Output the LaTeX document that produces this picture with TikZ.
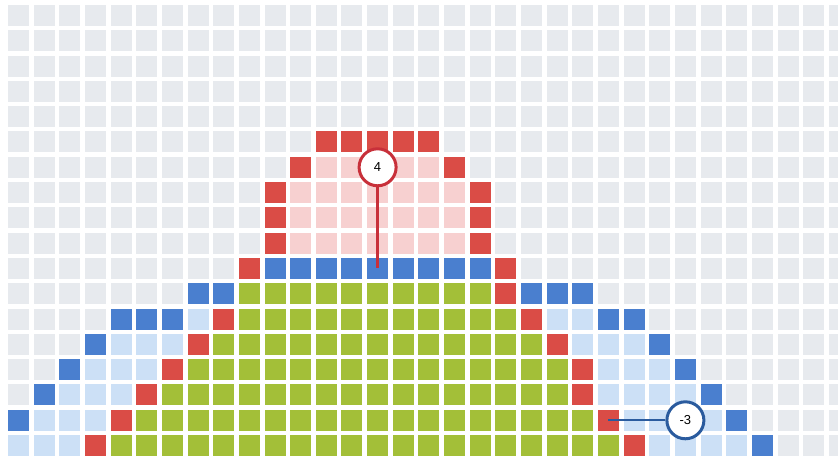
\documentclass[tikz,border=0pt]{standalone}
\usepackage{fontspec}
\setmainfont{Liberation Sans}
\definecolor{gridgrey}{HTML}{E7EAEE}
\definecolor{cred}{HTML}{DA4C46}
\definecolor{cpink}{HTML}{F7D0D0}
\definecolor{cblue}{HTML}{4A7FCF}
\definecolor{clblue}{HTML}{CCE0F6}
\definecolor{cgreen}{HTML}{A3BF38}
\definecolor{ringred}{HTML}{C8303A}
\definecolor{ringblue}{HTML}{2A5B9E}
\newcommand\cellat[3]{\fill[#3] ({8+25.65*#1},{455-25.3*#2}) rectangle ++(21,-21);}
\begin{document}
\begin{tikzpicture}[x=1pt,y=1pt,
  badge/.style={circle,fill=white,line width=3pt,minimum size=37pt,inner sep=0pt,font=\fontsize{13}{13}\selectfont},
  leader/.style={line width=2.4pt}]
\useasboundingbox (0,0) rectangle (838,460);
\clip (0,0) rectangle (838,460);
\fill[white] (0,0) rectangle (838,460);
% background grid
\foreach \r in {0,...,17}{\foreach \c in {0,...,32}{\cellat{\c}{\r}{gridgrey}}}
% pink
\foreach \c in {12,...,16}{\cellat{\c}{6}{cpink}}
\foreach \r in {7,8,9}{\foreach \c in {11,...,17}{\cellat{\c}{\r}{cpink}}}
% green
\foreach \r/\a/\b in {11/9/18,12/9/19,13/8/20,14/7/21,15/6/21,16/5/22,17/4/23}{
  \foreach \c in {\a,...,\b}{\cellat{\c}{\r}{cgreen}}}
% light blue
\foreach \r/\a/\b in {12/7/7,12/21/22,13/4/6,13/22/24,14/3/5,14/23/25,15/2/4,15/23/26,16/1/3,16/24/27,17/0/2,17/25/28}{
  \foreach \c in {\a,...,\b}{\cellat{\c}{\r}{clblue}}}
% blue
\foreach \c in {10,...,18}{\cellat{\c}{10}{cblue}}
\foreach \c/\r in {7/11,8/11,20/11,21/11,22/11,4/12,5/12,6/12,23/12,24/12,3/13,25/13,2/14,26/14,1/15,27/15,0/16,28/16,29/17}{
  \cellat{\c}{\r}{cblue}}
% red
\foreach \c in {12,...,16}{\cellat{\c}{5}{cred}}
\foreach \c/\r in {11/6,17/6,10/7,10/8,10/9,18/7,18/8,18/9,9/10,19/10,19/11,8/12,20/12,7/13,21/13,6/14,22/14,5/15,22/15,4/16,23/16,3/17,24/17}{
  \cellat{\c}{\r}{cred}}
% badges and leaders
\coordinate (p4) at ({8+25.65*14+10.5},{455-25.3*10-10.5});
\coordinate (p3) at ({8+25.65*23+10.5},{455-25.3*16-10.5});
\node[badge,draw=ringred] (n4) at ({8+25.65*14+10.5},{455-25.3*6-10.5}) {4};
\node[badge,draw=ringblue] (n3) at ({8+25.65*26+10.5},{455-25.3*16-10.5}) {-3};
\draw[leader,ringred] (n4.south) -- (p4);
\draw[leader,ringblue] (n3.west) -- (p3);
\end{tikzpicture}
\end{document}
